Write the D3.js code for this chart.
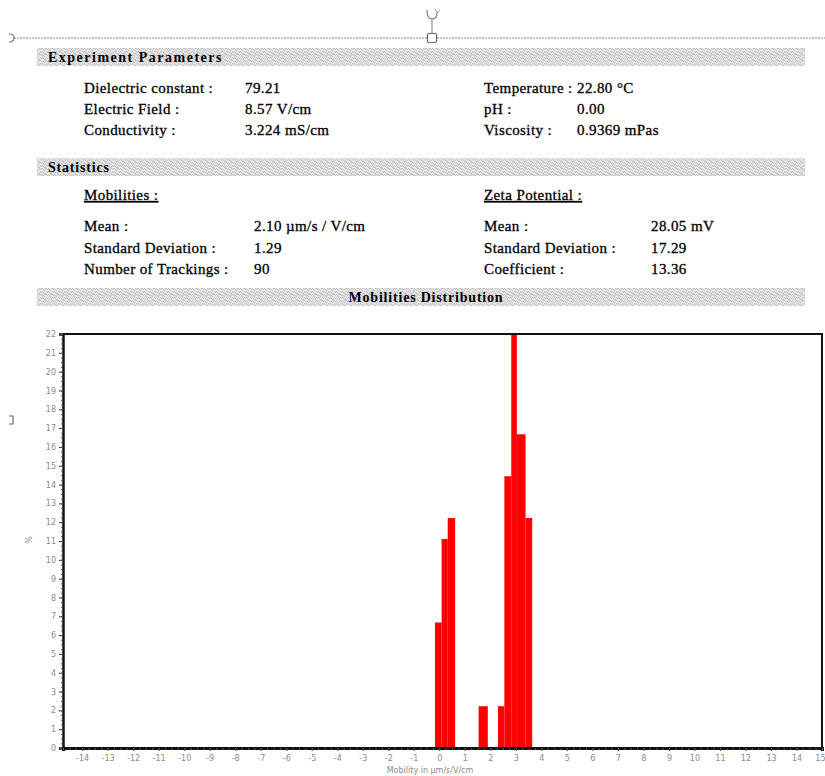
<!DOCTYPE html>
<html><head><meta charset="utf-8">
<script src="https://cdn.jsdelivr.net/npm/d3@7/dist/d3.min.js"></script>
<style>body{margin:0;background:#fff}svg{display:block}</style>
</head><body>
<script>
// ---- data ----
const paramsLeft = [["Dielectric constant :", "79.21"], ["Electric Field :", "8.57 V/cm"], ["Conductivity :", "3.224 mS/cm"]];
const paramsRight = [["Temperature :", "22.80 °C"], ["pH :", "0.00"], ["Viscosity :", "0.9369 mPas"]];
const mobilityStats = [["Mean :", "2.10 µm/s / V/cm"], ["Standard Deviation :", "1.29"], ["Number of Trackings :", "90"]];
const zetaStats = [["Mean :", "28.05 mV"], ["Standard Deviation :", "17.29"], ["Coefficient :", "13.36"]];
const binStart = [-0.17, 0.09, 0.33, 1.54, 2.30, 2.55, 2.82, 3.04, 3.38];
const binEnd   = [0.09, 0.33, 0.62, 1.90, 2.55, 2.82, 3.04, 3.38, 3.64];
const percent  = [6.67, 11.11, 12.22, 2.22, 2.22, 14.44, 22.22, 16.67, 12.22];
const xTicks = d3.range(-14, 16);
const yTicks = d3.range(0, 23);

const W = 825, H = 776;
const svg = d3.select("body").append("svg").attr("width", W).attr("height", H);
const defs = svg.append("defs");
const pat = defs.append("pattern").attr("id", "dither").attr("width", 6).attr("height", 6).attr("patternUnits", "userSpaceOnUse");
pat.append("rect").attr("width", 6).attr("height", 6).attr("fill", "#e0e0e0");
[[0,0],[3,0],[1,1],[5,1],[2,2],[4,3],[0,3],[1,4],[5,4],[3,5],[2,5],[4,0]].forEach(p => {
  pat.append("rect").attr("x", p[0]).attr("y", p[1]).attr("width", 1).attr("height", 1).attr("fill", "#c4c4c4");
});
[[1,0],[4,2],[0,5],[3,3],[5,5]].forEach(p => {
  pat.append("rect").attr("x", p[0]).attr("y", p[1]).attr("width", 1).attr("height", 1).attr("fill", "#f3f3f3");
});

// Word-like selection artifacts
svg.append("line").attr("x1", 14).attr("x2", 825).attr("y1", 38).attr("y2", 38)
  .attr("stroke", "#8a8a8a").attr("stroke-width", 1.2).attr("stroke-dasharray", "2,1");
svg.append("path").attr("d", "M9,34 Q14,34 14,38 Q14,42 9,42").attr("fill", "none").attr("stroke", "#777").attr("stroke-width", 1.2);
svg.append("line").attr("x1", 432).attr("x2", 432).attr("y1", 20).attr("y2", 34).attr("stroke", "#777");
svg.append("rect").attr("x", 427.5).attr("y", 33.5).attr("width", 9).attr("height", 9).attr("rx", 1.5)
  .attr("fill", "#fff").attr("stroke", "#666").attr("stroke-width", 1.2);
svg.append("path").attr("d", "M427,10 Q427,19 432,19 Q437,19 437,13").attr("fill", "none").attr("stroke", "#888").attr("stroke-width", 1.3);
svg.append("path").attr("d", "M435,9 L437,13 L440,10").attr("fill", "none").attr("stroke", "#999").attr("stroke-width", 1);
svg.append("path").attr("d", "M9,416 L13,416 L13,424 L9,424").attr("fill", "none").attr("stroke", "#666").attr("stroke-width", 1.2);

const serif = "'Liberation Serif','Times New Roman',serif";
function band(y, label, anchor, ls) {
  svg.append("rect").attr("x", 37).attr("y", y).attr("width", 768).attr("height", 18).attr("fill", "url(#dither)");
  svg.append("text").attr("x", anchor === "middle" ? 426 : 48).attr("y", y + 14)
    .attr("text-anchor", anchor || "start").attr("font-family", serif).attr("font-weight", "bold")
    .attr("font-size", 14).attr("letter-spacing", ls).text(label);
}
function txt(s, x, yy) {
  return svg.append("text").attr("x", x).attr("y", yy).attr("font-family", serif).attr("font-size", 15)
    .attr("letter-spacing", 0.4).attr("stroke", "#000").attr("stroke-width", 0.3).text(s);
}
function rows(list, x1, x2, y0, dy) {
  list.forEach((r, i) => { txt(r[0], x1, y0 + i * dy); txt(r[1], x2, y0 + i * dy); });
}
band(48, "Experiment Parameters", null, 1.5);
rows(paramsLeft, 84, 245, 93, 21);
rows(paramsRight, 484, 577, 93, 21);
band(158, "Statistics", null, 0.8);
[["Mobilities :", 84], ["Zeta Potential :", 484]].forEach(d => {
  txt(d[0], d[1], 200).attr("text-decoration", "underline");
});
rows(mobilityStats, 84, 254, 231, 21.5);
rows(zetaStats, 484, 651, 231, 21.5);
band(288, "Mobilities Distribution", "middle", 0.8);

// ---- chart ----
const x = d3.scaleLinear().domain([-14.75, 15]).range([63, 822]);
const y = d3.scaleLinear().domain([0, 22]).range([748, 334]);
defs.append("clipPath").attr("id", "plotclip").append("rect")
  .attr("x", 63).attr("y", 334).attr("width", 759).attr("height", 414);

svg.append("g").attr("clip-path", "url(#plotclip)").selectAll("rect.bar").data(percent).join("rect")
  .attr("x", (d, i) => x(binStart[i])).attr("width", (d, i) => x(binEnd[i]) - x(binStart[i]))
  .attr("y", d => y(d)).attr("height", d => y(0) - y(d)).attr("fill", "#ff0000");

// frame top/right
svg.append("path").attr("d", `M${x(-14.75)},${y(22)}H${x(15)}V${y(0)}`).attr("fill", "none")
  .attr("stroke", "#111").attr("stroke-width", 2);

const tickFont = "'DejaVu Sans',Arial,sans-serif";
// y axis
const yAx = svg.append("g").attr("transform", `translate(${x(-14.75)},0)`)
  .call(d3.axisLeft(y).tickValues(yTicks).tickSize(4).tickFormat(d => String(d)));
yAx.select(".domain").attr("stroke", "#111").attr("stroke-width", 2.5);
yAx.selectAll(".tick line").attr("stroke", "#333");
yAx.selectAll(".tick text").attr("fill", "#8a8a8a").attr("font-family", tickFont).attr("font-size", 8);
svg.append("g").attr("transform", `translate(${x(-14.75)},0)`)
  .call(d3.axisLeft(y).tickValues(d3.range(0, 22.01, 0.25)).tickSize(2).tickFormat(""))
  .call(g => g.select(".domain").remove()).selectAll("line").attr("stroke", "#555");

// x axis
const xAx = svg.append("g").attr("transform", `translate(0,${y(0)})`)
  .call(d3.axisBottom(x).tickValues(xTicks).tickSize(3).tickFormat(d => String(d)));
xAx.select(".domain").attr("stroke", "#111").attr("stroke-width", 3);
xAx.selectAll(".tick line").attr("stroke", "#333");
xAx.selectAll(".tick text").attr("fill", "#8a8a8a").attr("font-family", tickFont).attr("font-size", 8).attr("dy", "0.9em")
  .attr("text-anchor", d => d === 15 ? "end" : "middle").attr("dx", d => d === 15 ? 3 : 0);
svg.append("g").attr("transform", `translate(0,${y(0)})`)
  .call(d3.axisBottom(x).tickValues(d3.range(-14.75, 15.01, 0.25)).tickSize(2).tickFormat(""))
  .call(g => g.select(".domain").remove()).selectAll("line").attr("stroke", "#555");

svg.append("text").attr("x", 430).attr("y", 773).attr("text-anchor", "middle").attr("fill", "#8a8a8a")
  .attr("font-family", tickFont).attr("font-size", 8).text("Mobility  in µm/s/V/cm");
svg.append("text").attr("transform", "translate(32,540) rotate(-90)").attr("text-anchor", "middle").attr("fill", "#8a8a8a")
  .attr("font-family", tickFont).attr("font-size", 8).text("%");
</script>
</body></html>
